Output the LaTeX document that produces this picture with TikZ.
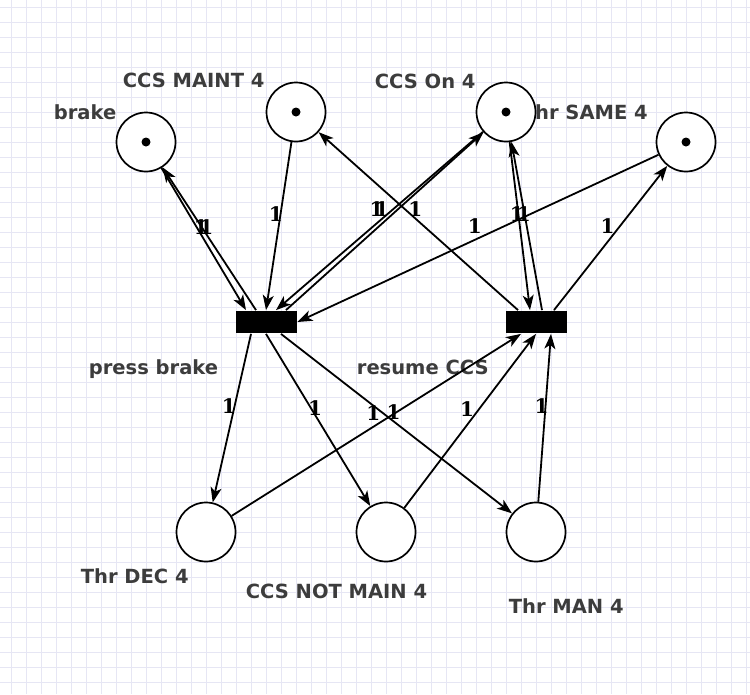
\documentclass[tikz,border=0pt]{standalone}
\usepackage{fontspec}
\setmainfont{DejaVu Sans}
\newfontfamily\weightfont{DejaVu Serif}
\usepackage{tikz}
\usetikzlibrary{petri,arrows.meta}
\definecolor{labelgray}{HTML}{3C3C3C}
\definecolor{gridblue}{HTML}{E6E6F4}

\tikzset{
  every place/.style={draw=black,fill=white,line width=1.7pt,minimum size=59pt,inner sep=0pt},
  every token/.style={fill=black,line width=0.4pt,minimum size=9pt},
  every transition/.style={draw=none,fill=black,minimum width=61pt,minimum height=22pt,inner sep=0pt},
  lbl/.style={text=labelgray,font=\fontsize{19.5}{23}\selectfont\bfseries,anchor=base west,inner sep=0pt},
  wt/.style={font=\fontsize{20}{23}\selectfont\weightfont\bfseries,midway,above,inner sep=3.5pt,xshift=-3pt},
  gridline/.style={-,draw=gridblue,line width=0.8pt}
}

\begin{document}
\begin{tikzpicture}[x=1pt,y=-1pt,->,>={Stealth[length=15pt,width=11pt,inset=4pt]},line width=1.8pt]
	\useasboundingbox[fill=white] (0,0) rectangle (750,694);
	% background grid
	\foreach \gx in {11,26,...,746} \draw[gridline] (\gx,0) -- (\gx,694);
	\foreach \gy in {7,22,...,692} \draw[gridline] (0,\gy) -- (750,\gy);

	% labels
	\node[lbl] (brakelbl) at (53,119) {brake};
	\node[lbl] (maintlbl) at (122,87) {CCS MAINT 4};
	\node[lbl] (onlbl) at (374,88) {CCS On 4};
	\node[lbl] (samelbl) at (521,119) {Thr SAME 4};
	\node[lbl] (presslbl) at (88,374) {press brake};
	\node[lbl] (resumelbl) at (356,374) {resume CCS};
	\node[lbl] (declbl) at (80,583) {Thr DEC 4};
	\node[lbl] (notmainlbl) at (245,598) {CCS NOT MAIN 4};
	\node[lbl] (manlbl) at (508,613) {Thr MAN 4};

	% places and transitions
	\node[place,tokens=1] (brake) at (146,142) {};
	\node[place,tokens=1] (ccsmaint) at (296,112) {};
	\node[place,tokens=1] (ccson) at (506,112) {};
	\node[place,tokens=1] (thrsame) at (686,142) {};
	\node[place] (thrdec) at (206,532) {};
	\node[place] (ccsnotmain) at (386,532) {};
	\node[place] (thrman) at (536,532) {};
	\node[transition] (press) at (266,322) {};
	\node[transition] (resume) at (536,322) {};

	\draw	(brake) edge node[wt]{1} ([xshift=-20pt]press.north)
			([xshift=-10pt]press.north) edge node[wt]{1} (brake)
			(ccsmaint) edge node[wt]{1} (press.north)
			(ccson) edge node[wt]{1} ([xshift=10pt]press.north)
			([xshift=20pt]press.north) edge node[wt]{1} (ccson)
			(thrsame) edge node[wt]{1} (press.east)
			([xshift=-15pt]press.south) edge node[wt]{1} (thrdec)
			(press.south) edge node[wt]{1} (ccsnotmain)
			([xshift=15pt]press.south) edge node[wt]{1} (thrman)
			([xshift=-18pt]resume.north) edge node[wt]{1} (ccsmaint)
			(ccson) edge node[wt]{1} ([xshift=-6pt]resume.north)
			([xshift=6pt]resume.north) edge node[wt]{1} (ccson)
			([xshift=18pt]resume.north) edge node[wt]{1} (thrsame)
			(thrdec) edge node[wt]{1} ([xshift=-15pt]resume.south)
			(ccsnotmain) edge node[wt]{1} (resume.south)
			(thrman) edge node[wt]{1} ([xshift=15pt]resume.south);
\end{tikzpicture}
\end{document}
